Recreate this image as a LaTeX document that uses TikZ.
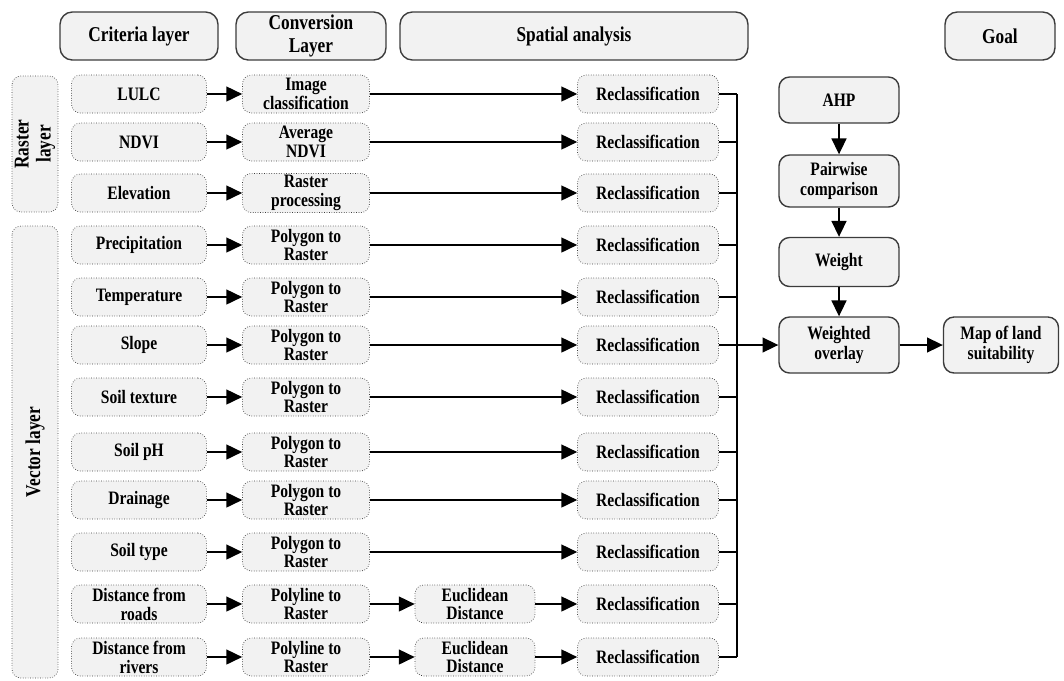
\documentclass[tikz,border=0pt]{standalone}
\usepackage{fontspec}
\setmainfont{Liberation Serif}[FakeStretch=0.82]
\usetikzlibrary{arrows.meta}

\definecolor{boxgray}{RGB}{242,242,242}
\definecolor{edgegray}{RGB}{60,60,60}

\tikzset{
  headbox/.style={draw=edgegray, thick, rounded corners=7pt, fill=boxgray, align=center,
    font=\bfseries\fontsize{12}{13}\selectfont, minimum height=0.96cm, inner sep=1pt},
  dotbox/.style={draw=edgegray, densely dotted, rounded corners=5pt, fill=boxgray, align=center,
    font=\bfseries\fontsize{10.8}{10.8}\selectfont, minimum height=0.76cm, inner sep=1pt},
  sidebox/.style={draw=edgegray, densely dotted, rounded corners=5pt, fill=boxgray, align=center,
    font=\bfseries\fontsize{12}{12.5}\selectfont, minimum height=0.92cm, inner sep=1pt},
  goalbox/.style={draw=edgegray, thick, rounded corners=6pt, fill=boxgray, align=center,
    font=\bfseries\fontsize{10.8}{11.5}\selectfont, minimum width=2.4cm, inner sep=1pt},
  arr/.style={thick, -{Triangle[length=9pt,width=8.5pt]}},
  link/.style={thick}
}

\begin{document}
\begin{tikzpicture}[x=0.02cm, y=-0.02cm]
            \useasboundingbox (0,0) rectangle (1064,680);

            % headers
            \node[headbox, minimum width=3.16cm] (hcrit) at (139,36) {Criteria layer};
            \node[headbox, minimum width=3.0cm] (hconv) at (311,36) {Conversion\\Layer};
            \node[headbox, minimum width=6.96cm] (hspat) at (574,36) {Spatial analysis};
            \node[headbox, minimum width=2.2cm] (hgoal) at (1000,36) {Goal};

            % layer groups
            \node[sidebox, minimum width=2.72cm, rotate=90] (raster) at (35,144) {Raster\\layer};
            \node[sidebox, minimum width=9.04cm, rotate=90] (vector) at (35,452) {Vector layer};

            % criteria
            \node[dotbox, minimum width=2.7cm] (c1) at (139,94) {LULC};
            \node[dotbox, minimum width=2.7cm] (c2) at (139,142) {NDVI};
            \node[dotbox, minimum width=2.7cm] (c3) at (139,193) {Elevation};
            \node[dotbox, minimum width=2.7cm] (c4) at (139,245) {Precipitation};
            \node[dotbox, minimum width=2.7cm] (c5) at (139,297) {Temperature};
            \node[dotbox, minimum width=2.7cm] (c6) at (139,345) {Slope};
            \node[dotbox, minimum width=2.7cm] (c7) at (139,397) {Soil texture};
            \node[dotbox, minimum width=2.7cm] (c8) at (139,452) {Soil pH};
            \node[dotbox, minimum width=2.7cm] (c9) at (139,500) {Drainage};
            \node[dotbox, minimum width=2.7cm] (c10) at (139,552) {Soil type};
            \node[dotbox, minimum width=2.7cm] (c11) at (139,604) {Distance from\\roads};
            \node[dotbox, minimum width=2.7cm] (c12) at (139,657) {Distance from\\rivers};

            % conversion
            \node[dotbox, minimum width=2.54cm] (v1) at (306,94) {Image\\classification};
            \node[dotbox, minimum width=2.54cm] (v2) at (306,142) {Average\\NDVI};
            \node[dotbox, minimum width=2.54cm] (v3) at (306,193) {Raster\\processing};
            \node[dotbox, minimum width=2.54cm] (v4) at (306,245) {Polygon to\\Raster};
            \node[dotbox, minimum width=2.54cm] (v5) at (306,297) {Polygon to\\Raster};
            \node[dotbox, minimum width=2.54cm] (v6) at (306,345) {Polygon to\\Raster};
            \node[dotbox, minimum width=2.54cm] (v7) at (306,397) {Polygon to\\Raster};
            \node[dotbox, minimum width=2.54cm] (v8) at (306,452) {Polygon to\\Raster};
            \node[dotbox, minimum width=2.54cm] (v9) at (306,500) {Polygon to\\Raster};
            \node[dotbox, minimum width=2.54cm] (v10) at (306,552) {Polygon to\\Raster};
            \node[dotbox, minimum width=2.54cm] (v11) at (306,604) {Polyline to\\Raster};
            \node[dotbox, minimum width=2.54cm] (v12) at (306,657) {Polyline to\\Raster};

            % euclidean distance
            \node[dotbox, minimum width=2.4cm] (e11) at (475,604) {Euclidean\\Distance};
            \node[dotbox, minimum width=2.4cm] (e12) at (475,657) {Euclidean\\Distance};

            % reclassification
            \node[dotbox, minimum width=2.82cm] (r1) at (648,94) {Reclassification};
            \node[dotbox, minimum width=2.82cm] (r2) at (648,142) {Reclassification};
            \node[dotbox, minimum width=2.82cm] (r3) at (648,193) {Reclassification};
            \node[dotbox, minimum width=2.82cm] (r4) at (648,245) {Reclassification};
            \node[dotbox, minimum width=2.82cm] (r5) at (648,297) {Reclassification};
            \node[dotbox, minimum width=2.82cm] (r6) at (648,345) {Reclassification};
            \node[dotbox, minimum width=2.82cm] (r7) at (648,397) {Reclassification};
            \node[dotbox, minimum width=2.82cm] (r8) at (648,452) {Reclassification};
            \node[dotbox, minimum width=2.82cm] (r9) at (648,500) {Reclassification};
            \node[dotbox, minimum width=2.82cm] (r10) at (648,552) {Reclassification};
            \node[dotbox, minimum width=2.82cm] (r11) at (648,604) {Reclassification};
            \node[dotbox, minimum width=2.82cm] (r12) at (648,657) {Reclassification};

            % AHP side
            \node[goalbox, minimum height=0.92cm] (ahp) at (839,100) {AHP};
            \node[goalbox, minimum height=1.04cm] (pair) at (839,181) {Pairwise\\comparison};
            \node[goalbox, minimum height=0.98cm] (weight) at (839,262) {Weight};
            \node[goalbox, minimum height=1.12cm] (overlay) at (839,345) {Weighted\\overlay};
            \node[goalbox, minimum width=2.3cm, minimum height=1.12cm] (map) at (1001,345) {Map of land\\suitability};

            % bus
            \coordinate (bustop) at (737,94);
            \coordinate (busmid) at (737,345);
            \coordinate (busbot) at (737,657);

            \draw[arr] (c1) -- (v1);
            \draw[arr] (c2) -- (v2);
            \draw[arr] (c3) -- (v3);
            \draw[arr] (c4) -- (v4);
            \draw[arr] (c5) -- (v5);
            \draw[arr] (c6) -- (v6);
            \draw[arr] (c7) -- (v7);
            \draw[arr] (c8) -- (v8);
            \draw[arr] (c9) -- (v9);
            \draw[arr] (c10) -- (v10);
            \draw[arr] (c11) -- (v11);
            \draw[arr] (c12) -- (v12);

            \draw[arr] (v1) -- (r1);
            \draw[arr] (v2) -- (r2);
            \draw[arr] (v3) -- (r3);
            \draw[arr] (v4) -- (r4);
            \draw[arr] (v5) -- (r5);
            \draw[arr] (v6) -- (r6);
            \draw[arr] (v7) -- (r7);
            \draw[arr] (v8) -- (r8);
            \draw[arr] (v9) -- (r9);
            \draw[arr] (v10) -- (r10);
            \draw[arr] (v11) -- (e11);
            \draw[arr] (v12) -- (e12);
            \draw[arr] (e11) -- (r11);
            \draw[arr] (e12) -- (r12);

            \draw[link] (r1.east) -- (r1.east -| bustop);
            \draw[link] (r2.east) -- (r2.east -| bustop);
            \draw[link] (r3.east) -- (r3.east -| bustop);
            \draw[link] (r4.east) -- (r4.east -| bustop);
            \draw[link] (r5.east) -- (r5.east -| bustop);
            \draw[link] (r6.east) -- (r6.east -| bustop);
            \draw[link] (r7.east) -- (r7.east -| bustop);
            \draw[link] (r8.east) -- (r8.east -| bustop);
            \draw[link] (r9.east) -- (r9.east -| bustop);
            \draw[link] (r10.east) -- (r10.east -| bustop);
            \draw[link] (r11.east) -- (r11.east -| bustop);
            \draw[link] (r12.east) -- (r12.east -| bustop);
            \draw[link] (bustop) -- (busbot);

            \draw[arr] (busmid) -- (overlay);
            \draw[arr] (ahp) -- (pair);
            \draw[arr] (pair) -- (weight);
            \draw[arr] (weight) -- (overlay);
            \draw[arr] (overlay) -- (map);
        \end{tikzpicture}
\end{document}
